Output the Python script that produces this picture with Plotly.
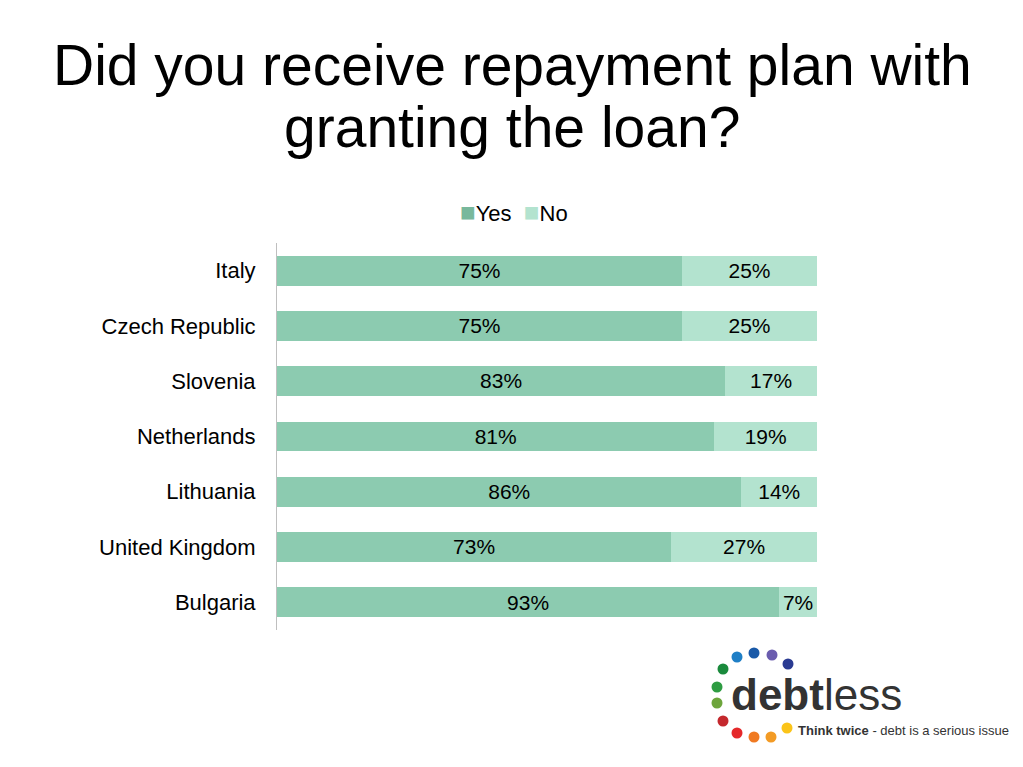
import plotly.graph_objects as go

countries = ["Italy", "Czech Republic", "Slovenia", "Netherlands", "Lithuania", "United Kingdom", "Bulgaria"]
yes_vals = [75, 75, 83, 81, 86, 73, 93]
no_vals = [25, 25, 17, 19, 14, 27, 7]

OFF = 8  # page body margin
W, H = 1023 - OFF, 767 - OFF
# plot area in page pixels
L, R, T, B = 277, 817, 243, 630

def px(x):
    return (x - L) / (R - L)

def py(y):
    return (B - y) / (B - T)

FONT = "Liberation Sans, Arial, sans-serif"
YES_C = "#8ccbb0"
NO_C = "#b3e3cf"

fig = go.Figure()
fig.add_trace(go.Bar(
    name="Yes", y=countries, x=yes_vals, orientation="h",
    marker=dict(color=YES_C, line=dict(width=0)),
    text=[f"{v}%" for v in yes_vals], textposition="inside", insidetextanchor="middle",
    textfont=dict(color="black", size=22, family=FONT),
))
fig.add_trace(go.Bar(
    name="No", y=countries, x=no_vals, orientation="h",
    marker=dict(color=NO_C, line=dict(width=0)),
    text=[f"{v}%" for v in no_vals], textposition="inside", insidetextanchor="middle",
    textfont=dict(color="black", size=22, family=FONT),
))

shapes = []
annotations = []

# title lines
annotations.append(dict(xref="paper", yref="paper", x=px(512), y=py(65), xanchor="center", yanchor="middle",
                        text="Did you receive repayment plan with", showarrow=False,
                        font=dict(size=57, color="black", family=FONT)))
annotations.append(dict(xref="paper", yref="paper", x=px(512), y=py(127), xanchor="center", yanchor="middle",
                        text="granting the loan?", showarrow=False,
                        font=dict(size=57, color="black", family=FONT)))

# legend
annotations.append(dict(xref="paper", yref="paper", x=px(514), y=py(212), xanchor="center", yanchor="middle",
                        text=f'<span style="color:#78b89c;font-size:26px">■</span>Yes  '
                             f'<span style="color:{NO_C};font-size:26px">■</span>No',
                        showarrow=False, font=dict(size=22, color="black", family=FONT)))

# logo dots
dots = [
    (737, 657, "#1f7fc6"), (754, 653, "#1959a8"), (772, 655, "#6a5cae"), (788, 664, "#2a3b92"),
    (723, 669, "#1a8a3c"), (717, 687, "#2e9c42"), (717, 703, "#6da53c"), (723, 721, "#c4282d"),
    (737, 733, "#e5282a"), (754, 737, "#f07a22"), (771, 737, "#f39b25"), (787, 728, "#fbc419"),
]
r = 5.5
for cx, cy, c in dots:
    shapes.append(dict(type="circle", xref="paper", yref="paper",
                       x0=px(cx - r), x1=px(cx + r), y0=py(cy + r), y1=py(cy - r),
                       fillcolor=c, line=dict(width=0), layer="above"))
annotations.append(dict(xref="paper", yref="paper", x=px(729), y=py(694), xanchor="left", yanchor="middle",
                        text="<b>debt</b>less", showarrow=False,
                        font=dict(size=44, color="#333333", family=FONT)))
annotations.append(dict(xref="paper", yref="paper", x=px(796), y=py(730), xanchor="left", yanchor="middle",
                        text="<b>Think twice</b> - debt is a serious issue", showarrow=False,
                        font=dict(size=13, color="#333333", family=FONT)))

fig.update_layout(
    width=W, height=H,
    margin=dict(l=L - OFF, r=W - (R - OFF), t=T - OFF, b=H - (B - OFF), pad=0),
    paper_bgcolor="white", plot_bgcolor="white",
    barmode="stack", bargap=0.46,
    showlegend=False,
    xaxis=dict(range=[0, 100], visible=False, fixedrange=True),
    yaxis=dict(autorange="reversed", showline=True, linecolor="#bfbfbf", linewidth=1,
               showgrid=False, ticks="", ticklabelstandoff=16,
               tickfont=dict(size=22, color="black", family=FONT)),
    font=dict(family=FONT),
    shapes=shapes, annotations=annotations,
)

fig.write_html("out.html")
